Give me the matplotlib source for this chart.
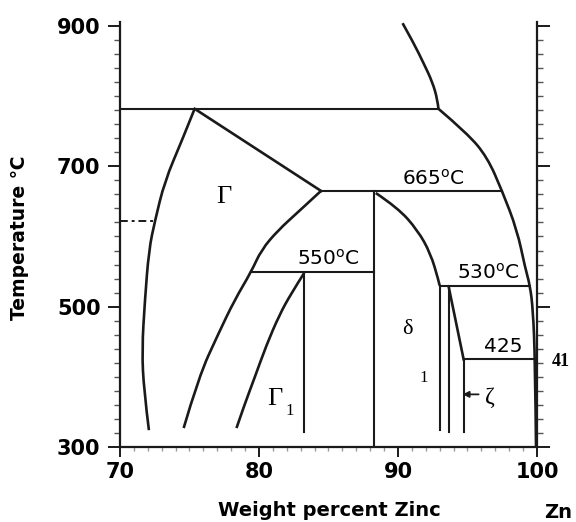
import matplotlib
matplotlib.use("Agg")
import matplotlib.pyplot as plt
from matplotlib.path import Path
from matplotlib.patches import PathPatch
from matplotlib.ticker import MultipleLocator

# Fe-Zn phase diagram, Zn-rich corner

# liquidus above the 782 peritectic
liq_top_x = [90.33, 91.12, 91.84, 92.48, 92.84, 92.91]
liq_top_y = [904, 876, 847, 820, 795, 782]
# liquidus below 782 down to the Zn side
liq_x = [92.91, 94.99, 96.42, 97.49, 98.57, 99.14, 99.50, 99.71, 99.86, 99.93]
liq_y = [782, 747, 713, 665, 609, 556, 530, 495, 425, 300]

# Gamma, left boundary
gam_left_x = [75.37, 74.44, 73.22, 72.51, 72.08, 71.79, 71.58, 71.72, 72.08]
gam_left_y = [782, 736, 679, 622, 581, 509, 438, 381, 324]

# Gamma, upper right boundary (782 -> 665)
gam_top_x = [75.37, 84.46]
gam_top_y = [782, 665]

# Gamma / Gamma1 boundary
gam_right_x = [84.46, 82.82, 81.38, 80.17, 79.45, 78.23, 77.09, 75.66, 74.58]
gam_right_y = [665, 635, 609, 581, 550, 509, 462, 400, 327]

# Gamma1 left boundary
g1_x = [83.25, 82.32, 81.46, 80.53, 79.67, 78.95, 78.38]
g1_y = [548, 519, 488, 445, 398, 360, 327]

# delta boundary (665 -> 530)
delta_x = [88.40, 89.98, 91.41, 92.34, 92.91, 93.0]
delta_y = [662, 641, 609, 576, 538, 530]

# zeta slanted boundary
zeta_x = [93.65, 94.72]
zeta_y = [528, 425]

# isotherms: (T, x start, x end)
isotherms = [(782, 70.0, 92.91), (665, 84.46, 97.49), (550, 79.45, 88.26),
             (530, 93.0, 99.50), (425, 94.72, 99.86)]

# vertical phase lines: (x, T top, T bottom)
verticals = [(88.26, 665, 300), (83.25, 548, 322), (93.0, 530, 324),
             (93.65, 530, 322), (94.72, 425, 321)]

lc = "#1a1a1a"


def smooth_curve(ax, xs, ys, lw=1.9):
    # quadratic bezier through the read points, so the boundary looks drawn, not polygonal
    pts = list(zip(xs, ys))
    if len(pts) < 3:
        ax.plot(xs, ys, color=lc, lw=lw)
        return
    verts = [pts[0]]
    codes = [Path.MOVETO]
    for i in range(1, len(pts) - 1):
        mid = ((pts[i][0] + pts[i + 1][0]) / 2, (pts[i][1] + pts[i + 1][1]) / 2)
        if i == len(pts) - 2:
            mid = pts[i + 1]
        verts += [pts[i], mid]
        codes += [Path.CURVE3, Path.CURVE3]
    ax.add_patch(PathPatch(Path(verts, codes), fill=False, edgecolor=lc, lw=lw,
                           capstyle="butt", joinstyle="round"))


fig = plt.figure(figsize=(5.76, 5.22), dpi=100)
ax = fig.add_axes([120 / 576, 1 - 447 / 522, 417 / 576, 425 / 522])

for xs, ys in [(liq_top_x, liq_top_y), (liq_x, liq_y), (gam_left_x, gam_left_y),
               (gam_top_x, gam_top_y), (gam_right_x, gam_right_y), (g1_x, g1_y),
               (delta_x, delta_y), (zeta_x, zeta_y)]:
    smooth_curve(ax, xs, ys)

for t, x0, x1 in isotherms:
    ax.plot([x0, x1], [t, t], color=lc, lw=1.5)
for x, t0, t1 in verticals:
    ax.plot([x, x], [t0, t1], color=lc, lw=1.5)

# dashed mark on left boundary
ax.plot([70.0, 72.51], [622, 622], color=lc, lw=1.4, ls=(0, (4, 2, 1.5, 2)))

ax.set_xlim(70, 100)
ax.set_ylim(300, 905.7)
ax.spines["top"].set_visible(False)
for s in ["left", "bottom", "right"]:
    ax.spines[s].set_linewidth(1.6)
    ax.spines[s].set_color(lc)

ax.set_xticks([70, 80, 90, 100])
ax.set_yticks([300, 500, 700, 900])
ax.xaxis.set_minor_locator(MultipleLocator(1))
ax.yaxis.set_minor_locator(MultipleLocator(20))
ax.tick_params(axis="both", which="major", direction="out", length=7, width=1.4,
               color=lc, labelsize=15, pad=4)
ax.tick_params(axis="y", which="major", length=9, pad=5, right=True)
ax.tick_params(axis="y", which="minor", direction="out", length=4, width=1.0,
               color="#555555", right=True)
ax.tick_params(axis="x", which="minor", direction="out", length=3, width=1.0, color="#999999")
for lab in ax.get_xticklabels() + ax.get_yticklabels():
    lab.set_fontweight("bold")
    lab.set_family("DejaVu Sans")

sans = ["DejaVu Sans"]
serif = ["Liberation Serif", "DejaVu Serif"]

ax.text(92.55, 683, "665$^{\\mathsf{o}}$C", ha="center", va="center", fontsize=14.5, family=sans)
ax.text(84.97, 569, "550$^{\\mathsf{o}}$C", ha="center", va="center", fontsize=14.5, family=sans)
ax.text(96.5, 549, "530$^{\\mathsf{o}}$C", ha="center", va="center", fontsize=14.5, family=sans)
ax.text(97.57, 443, "425", ha="center", va="center", fontsize=14.5, family=sans)

ax.text(77.5, 656, "\u0393", ha="center", va="center", fontsize=19, family=serif)
ax.text(81.17, 368, "\u0393", ha="center", va="center", fontsize=19, family=serif)
ax.text(82.24, 352, "1", ha="center", va="center", fontsize=12, family=serif)
ax.text(90.7, 467, "\u03b4", ha="center", va="center", fontsize=16, family=serif)
ax.text(91.84, 399, "1", ha="center", va="center", fontsize=12, family=serif)
ax.text(96.64, 370, "\u03b6", ha="center", va="center", fontsize=17, family=serif)
ax.annotate("", xy=(94.45, 375), xytext=(96.0, 375),
            arrowprops=dict(arrowstyle="-|>", color=lc, lw=1.3, mutation_scale=9))
ax.text(101.05, 422, "41", ha="left", va="center", fontsize=13, fontweight="bold",
        family=serif, clip_on=False)

fig.text(20 / 576, 1 - 238 / 522, "Temperature \u2103", rotation=90, ha="center", va="center",
         fontsize=13.5, fontweight="bold", family=["DejaVu Sans"])
fig.text(329 / 576, 1 - 511 / 522, "Weight percent Zinc", ha="center", va="center",
         fontsize=14, fontweight="bold", family=["DejaVu Sans"])
fig.text(558 / 576, 1 - 512 / 522, "Zn", ha="center", va="center",
         fontsize=14, fontweight="bold", family=["DejaVu Sans"])

fig.savefig("out.png", dpi=100)
